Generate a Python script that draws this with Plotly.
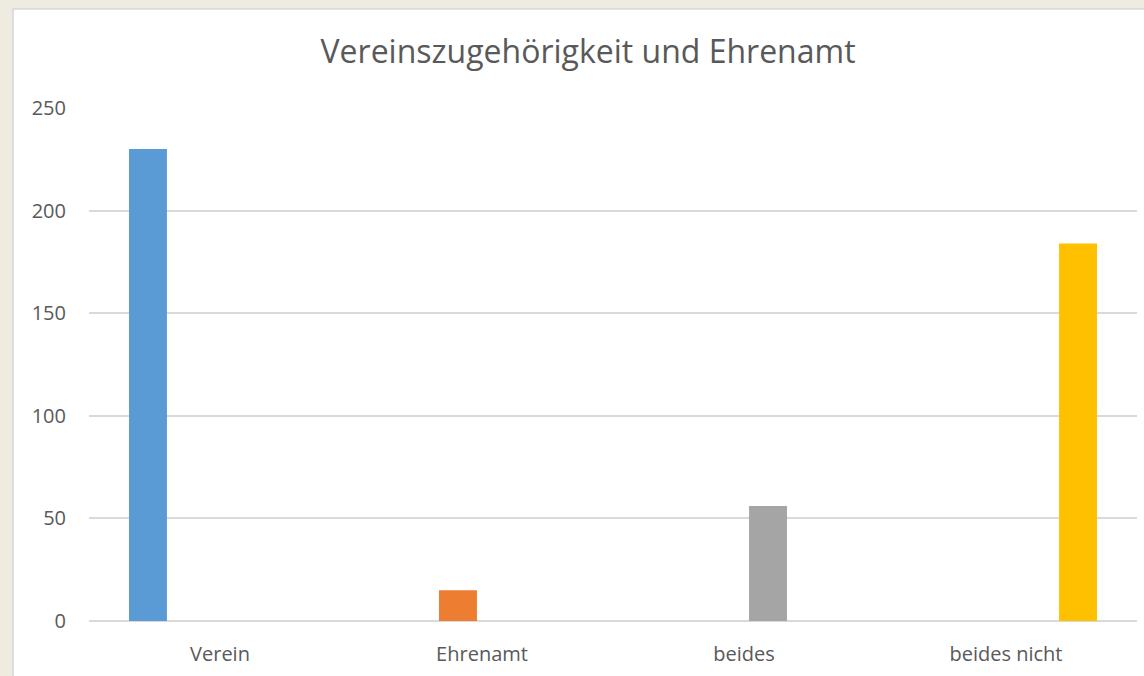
import plotly.graph_objects as go

categories = ["Verein", "Ehrenamt", "beides", "beides nicht"]
values = [230, 15, 56, 184]
colors = ["#5B9BD5", "#ED7D31", "#A5A5A5", "#FFC000"]
y_ticks = [0, 50, 100, 150, 200, 250]

TEXT = "#595959"
GRID = "#D9D9D9"

fig = go.Figure()

# one series per category, like the Excel source
for i, name in enumerate(categories):
    y = [values[i] if j == i else None for j in range(len(categories))]
    fig.add_trace(go.Bar(
        name=name,
        x=categories,
        y=y,
        marker_color=colors[i],
        marker_line_width=0,
    ))

# white chart area on the beige sheet
fig.add_shape(
    type="rect", xref="paper", yref="paper",
    x0=-0.0725, x1=1.2, y0=-0.3, y1=1.193,
    fillcolor="white", line=dict(color="#D6D6D6", width=1.5),
    layer="below",
)

fig.update_layout(
    title=dict(
        text="Vereinszugehörigkeit und Ehrenamt",
        font=dict(family="Open Sans", size=32, color=TEXT),
        x=0.514, xanchor="center", y=0.923, yanchor="middle", yref="container",
    ),
    barmode="group",
    bargap=0.267,
    bargroupgap=0.21,
    showlegend=False,
    paper_bgcolor="#EEEBE0",
    plot_bgcolor="rgba(0,0,0,0)",
    font=dict(family="Open Sans", size=20, color=TEXT),
    xaxis=dict(
        showgrid=False, showline=False, ticks="",
        ticklabelstandoff=19,
        tickfont=dict(size=20, color=TEXT),
    ),
    yaxis=dict(
        range=[0, 250],
        tickvals=y_ticks,
        gridcolor=GRID, gridwidth=1.5,
        zeroline=True, zerolinecolor=GRID, zerolinewidth=1.5,
        showline=False, ticks="",
        ticklabelstandoff=22,
        tickfont=dict(size=20, color=TEXT),
    ),
    margin=dict(l=89, r=7, t=108, b=55),
    width=1144,
    height=676,
)

fig.write_html(
    "out.html",
    config={"displayModeBar": False},
    post_script="document.body.style.margin='0';document.body.style.background='#EEEBE0';",
)
